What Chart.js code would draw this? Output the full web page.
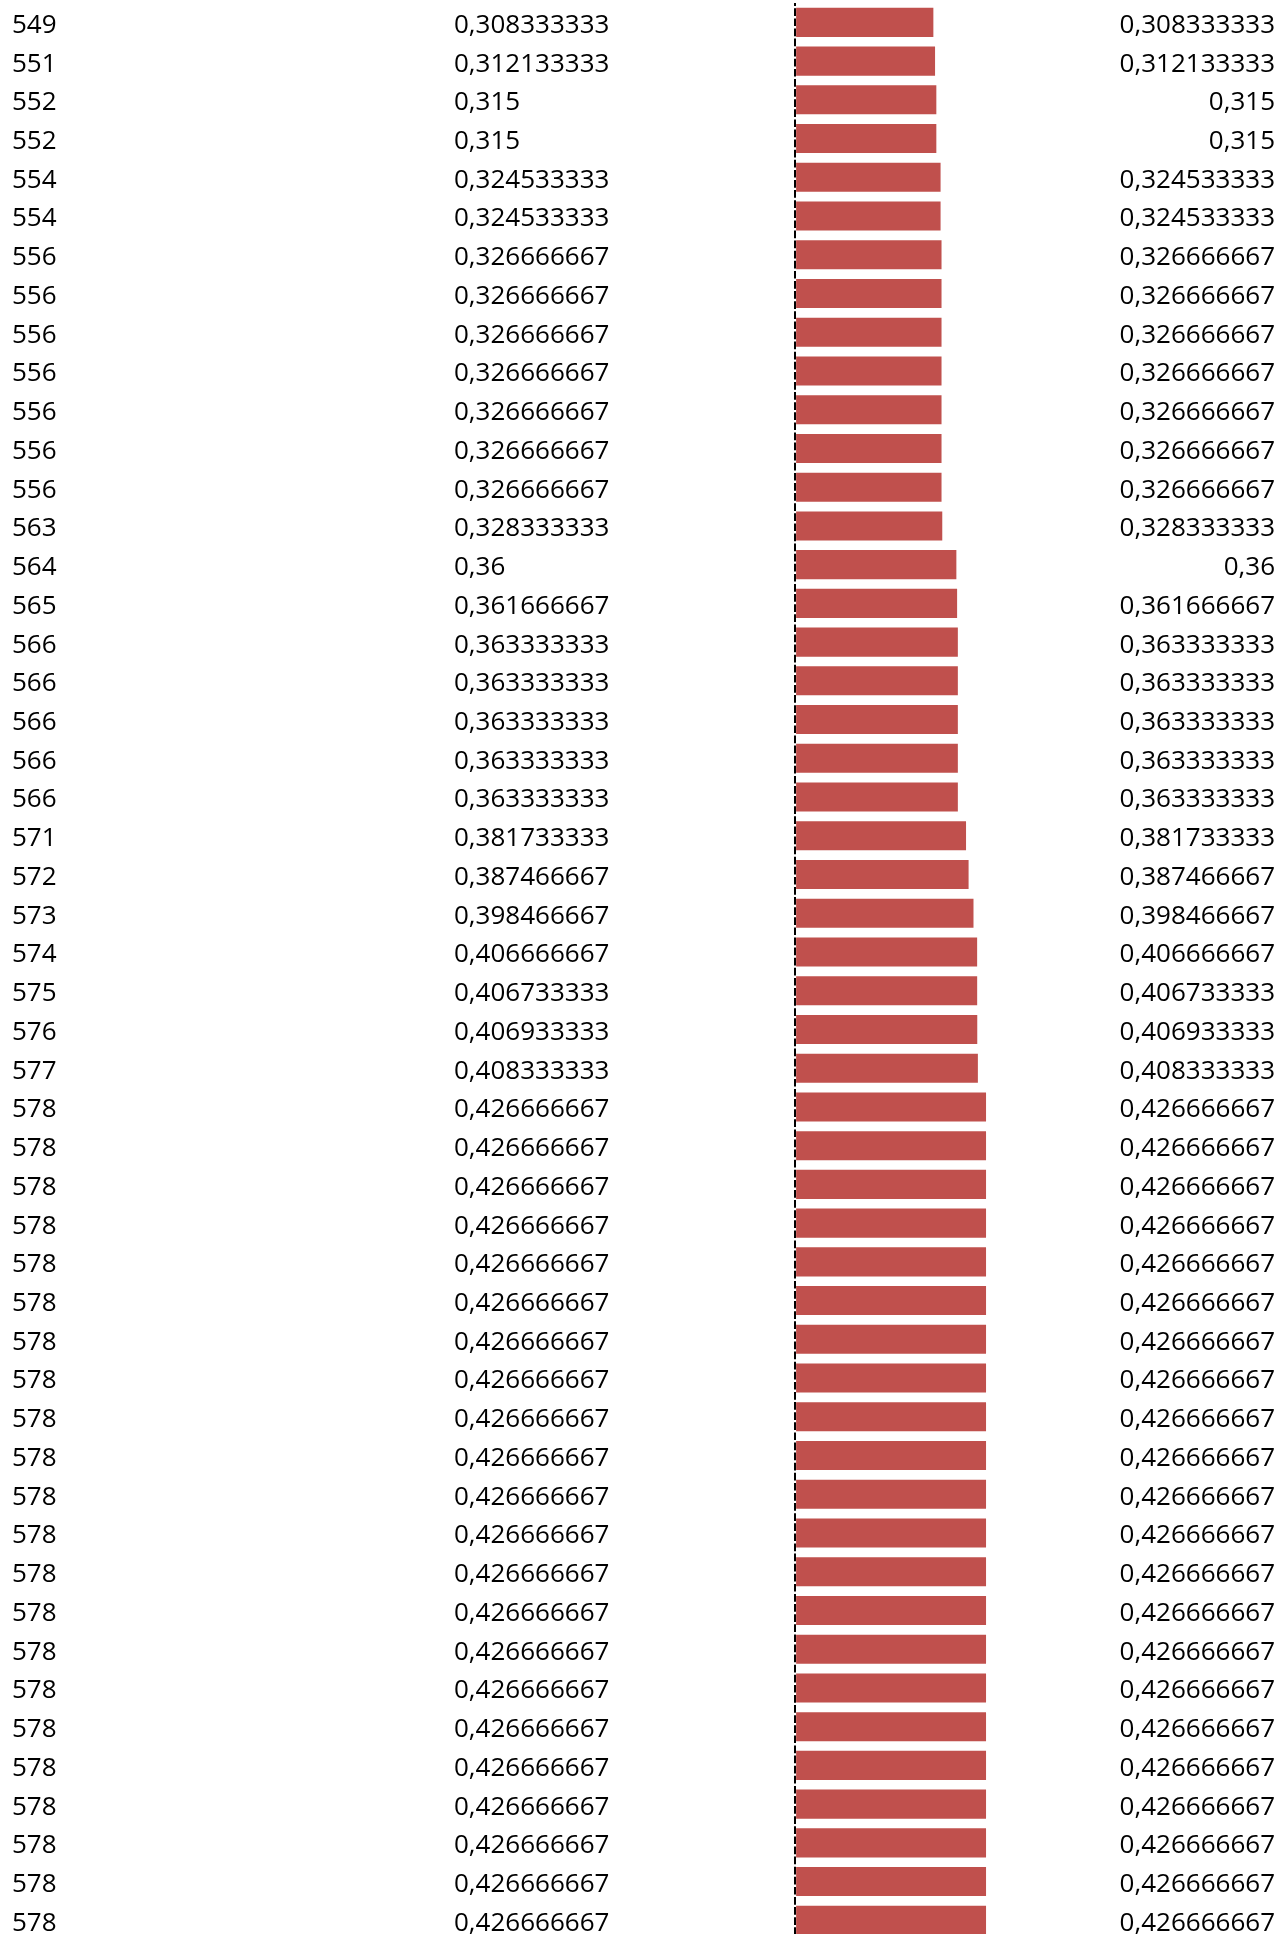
<!DOCTYPE html>
<html lang="en">
<head>
<meta charset="UTF-8">
<title>Bar table</title>
<style>
    html, body {
        margin: 0;
        padding: 0;
        background: #fff;
        overflow: hidden;
    }
    .wrap {
        position: relative;
        width: 1288px;
        height: 1941px;
    }
</style>
</head>
<body>
<div class="wrap">
    <canvas id="barChart"></canvas>
</div>

<script src="https://cdn.jsdelivr.net/npm/chart.js"></script>
<script>
// categories (left column)
const categories = [
    "549", "551", "552", "552", "554", "554",
    "556", "556", "556", "556", "556", "556", "556",
    "563", "564", "565",
    "566", "566", "566", "566", "566",
    "571", "572", "573", "574", "575", "576", "577",
    "578", "578", "578", "578", "578", "578", "578", "578", "578", "578", "578",
    "578", "578", "578", "578", "578", "578", "578", "578", "578", "578", "578"
];

// values shown in the middle column, as bars and in the right column
const values = [
    0.308333333, 0.312133333, 0.315, 0.315, 0.324533333, 0.324533333,
    0.326666667, 0.326666667, 0.326666667, 0.326666667, 0.326666667, 0.326666667, 0.326666667,
    0.328333333, 0.36, 0.361666667,
    0.363333333, 0.363333333, 0.363333333, 0.363333333, 0.363333333,
    0.381733333, 0.387466667, 0.398466667, 0.406666667, 0.406733333, 0.406933333, 0.408333333,
    0.426666667, 0.426666667, 0.426666667, 0.426666667, 0.426666667, 0.426666667, 0.426666667,
    0.426666667, 0.426666667, 0.426666667, 0.426666667, 0.426666667, 0.426666667, 0.426666667,
    0.426666667, 0.426666667, 0.426666667, 0.426666667, 0.426666667, 0.426666667, 0.426666667,
    0.426666667
];

const FONT = '"Open Sans", "Noto Sans", sans-serif';
const FONT_SIZE = 26;

// number with decimal comma, like the spreadsheet shows it
function fmt(v) {
    return v.toFixed(9).replace(/0+$/, "").replace(/\.$/, "").replace(".", ",");
}

// middle and right text columns, placed on the bars' rows
const valueColumns = {
    id: "valueColumns",
    afterDatasetsDraw(chart) {
        const ctx = chart.ctx;
        const meta = chart.getDatasetMeta(0);
        ctx.save();
        ctx.font = FONT_SIZE + "px " + FONT;
        ctx.fillStyle = "#000";
        ctx.textBaseline = "middle";
        meta.data.forEach((bar, i) => {
            const txt = fmt(values[i]);
            ctx.textAlign = "left";
            ctx.fillText(txt, 454, bar.y + 3);
            ctx.textAlign = "right";
            ctx.fillText(txt, 1275, bar.y + 3);
        });
        ctx.restore();
    }
};

const ctx = document.getElementById("barChart").getContext("2d");
const chart = new Chart(ctx, {
    type: "bar",
    data: {
        labels: categories,
        datasets: [{
            data: values,
            backgroundColor: "#C0504D",
            borderWidth: 0,
            categoryPercentage: 1.0,
            barPercentage: 0.75
        }]
    },
    options: {
        indexAxis: "y",
        responsive: true,
        maintainAspectRatio: false,
        animation: false,
        layout: {
            padding: { left: 12, top: 3, right: 0, bottom: 0 }
        },
        plugins: {
            legend: { display: false },
            tooltip: { enabled: false }
        },
        scales: {
            x: {
                display: true,
                min: -0.0025,
                max: 1.105,
                // only one dashed line, at the left edge of the plot
                afterBuildTicks(scale) {
                    scale.ticks = [{ value: scale.min }];
                },
                ticks: { display: false },
                grid: {
                    display: true,
                    drawTicks: false,
                    color: "#000",
                    lineWidth: 2
                },
                border: {
                    display: false,
                    dash: [7.7, 2.4],
                    dashOffset: 4.8
                }
            },
            y: {
                position: "left",
                afterFit(scale) {
                    scale.width = 783;
                },
                grid: { display: false },
                border: { display: false },
                ticks: {
                    autoSkip: false,
                    crossAlign: "far",
                    padding: 0,
                    labelOffset: 3,
                    color: "#000",
                    font: { family: FONT, size: FONT_SIZE, lineHeight: 0.1 }
                }
            }
        }
    },
    plugins: [valueColumns]
});
</script>
</body>
</html>
